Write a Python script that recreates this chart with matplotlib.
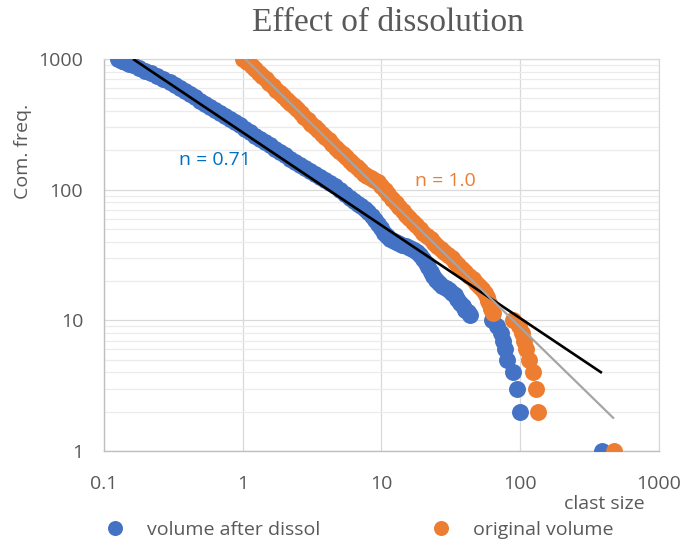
import matplotlib.pyplot as plt
from matplotlib.lines import Line2D
from matplotlib.ticker import FixedLocator, FixedFormatter, LogLocator, NullFormatter

# clast size vs cumulative frequency
blue_size = [0.126, 0.134, 0.142, 0.152, 0.162, 0.179, 0.1975, 0.218, 0.241, 0.268,
             0.299, 0.325, 0.353, 0.384, 0.417, 0.453, 0.492, 0.535, 0.581, 0.631,
             0.685, 0.744, 0.809, 0.879, 0.955, 1.04, 1.127, 1.225, 1.331, 1.446,
             1.571, 1.707, 1.855, 2.016, 2.19, 2.38, 2.586, 2.808, 3.05, 3.314,
             3.60, 3.911, 4.25, 4.619, 5.02, 5.456, 5.93, 6.336, 6.77, 7.173,
             7.60, 8.056, 8.54, 8.979, 9.44, 9.908, 10.4, 10.94, 11.5, 12.3,
             13.15, 14.04, 15.0, 16.04, 17.15, 18.03, 18.95, 19.9, 20.9, 21.78,
             22.7, 23.68, 24.7, 25.97, 27.3, 28.95, 30.7, 32.26, 33.9, 35.3,
             36.8, 38.4, 40.0, 41.7, 43.4,
             62.2, 67.6, 72.3, 75.5, 77.6, 80.7, 89.2, 94.2, 99.6, 386]
blue_freq = [1000, 974, 949, 924, 900, 857, 816, 778, 741, 703,
             667, 635, 605, 572, 540, 510, 481, 455, 430, 407,
             386, 366, 347, 328, 310, 292.5, 276, 259.5, 244, 230.6,
             218, 205.6, 194, 183.2, 173, 163.5, 154.5, 146, 138, 130.8,
             124, 118.1, 112.5, 105.8, 99.5, 92.7, 86.4, 81.9, 77.7, 74.4,
             71.2, 66.9, 62.9, 58.7, 54.7, 50.5, 46.6, 44.2, 42.0, 40.5,
             39.1, 37.9, 36.8, 35.7, 34.6, 33.1, 31.7, 29.5, 27.5, 25.4,
             23.5, 21.9, 20.4, 19.3, 18.3, 17.7, 17.1, 16.3, 15.6, 14.6,
             13.6, 12.8, 12.0, 11.5, 11.0,
             10, 9, 8, 7, 6, 5, 4, 3, 2, 1]

orange_size = [1.0, 1.08, 1.166, 1.236, 1.31, 1.388, 1.471, 1.559, 1.652, 1.751,
               1.856, 1.967, 2.084, 2.209, 2.341, 2.481, 2.63, 2.787, 2.953, 3.13,
               3.317, 3.516, 3.726, 3.948, 4.183, 4.434, 4.70, 4.982, 5.28, 5.596,
               5.93, 6.284, 6.66, 7.058, 7.48, 7.927, 8.40, 8.905, 9.44, 10.0,
               10.6, 11.23, 11.9, 12.63, 13.4, 14.18, 15.0, 15.92, 16.9, 17.87,
               18.9, 20.06, 21.3, 22.56, 23.9, 25.31, 26.8, 28.45, 30.2, 32.0,
               33.9, 35.9, 38.0, 40.3, 42.7, 45.3, 48.0, 50.4, 53.0, 55.3,
               57.6, 59.0, 60.5, 62.0, 63.6,
               89.2, 98.4, 103.5, 107, 109.9, 115.6, 123, 129.8, 134.9, 474]
orange_freq = [1000, 944, 892, 838, 788, 744, 703, 661, 622, 584,
               549, 519, 490, 463, 437, 411, 386, 363, 341.5, 321,
               302, 284, 267, 252, 238, 223.6, 210, 198.5, 187.6, 176.4,
               165.8, 156.6, 147.9, 140.3, 133, 127.9, 122.9, 118.6, 114.5, 106.7,
               99.5, 91.9, 84.9, 79.1, 73.7, 68.7, 64.0, 60.2, 56.6, 53.2,
               50.0, 47.0, 44.2, 41.6, 39.1, 36.9, 34.9, 33.1, 31.4, 29.8,
               28.2, 26.5, 24.9, 23.4, 21.9, 20.6, 19.3, 18.3, 17.4, 16.2,
               15.1, 14.1, 13.1, 12.2, 11.4,
               10, 9, 8, 7, 6, 5, 4, 3, 2, 1]

# power-law trendlines (end points)
fit_after_x = [0.162, 388]
fit_after_y = [1000, 3.96]
fit_orig_x = [1.04, 474]
fit_orig_y = [1000, 1.77]

x_ticks = [0.1, 1, 10, 100, 1000]
x_labels = ["0.1", "1", "10", "100", "1000"]
y_ticks = [1, 10, 100, 1000]
y_labels = ["1", "10", "100", "1000"]

BLUE = "#4472C4"
ORANGE = "#ED7D31"
TXT = "#595959"

plt.rcParams["font.family"] = ["Open Sans", "DejaVu Sans"]

fig = plt.figure(figsize=(6.85, 5.4), dpi=100)
ax = fig.add_axes([0.1518, 0.1648, 0.8102, 0.7259])

ax.plot(blue_size, blue_freq, "o", color=BLUE, ms=12.2, mew=0, zorder=3)
ax.plot(orange_size, orange_freq, "o", color=ORANGE, ms=12.2, mew=0, zorder=4)
ax.plot(fit_after_x, fit_after_y, color="black", lw=1.9, solid_capstyle="butt", zorder=5)
ax.plot(fit_orig_x, fit_orig_y, color="#A5A5A5", lw=1.6, solid_capstyle="butt", zorder=6)

ax.set_xscale("log")
ax.set_yscale("log")
ax.set_xlim(0.1, 1000)
ax.set_ylim(1, 1000)

ax.xaxis.set_major_locator(FixedLocator(x_ticks))
ax.xaxis.set_major_formatter(FixedFormatter(x_labels))
ax.xaxis.set_minor_locator(FixedLocator([]))
ax.yaxis.set_major_locator(FixedLocator(y_ticks))
ax.yaxis.set_major_formatter(FixedFormatter(y_labels))
ax.yaxis.set_minor_locator(LogLocator(base=10, subs=range(2, 10)))
ax.yaxis.set_minor_formatter(NullFormatter())

ax.grid(True, which="major", color="#D9D9D9", lw=0.9, zorder=0)
ax.grid(True, which="minor", axis="y", color="#EBEBEB", lw=0.9, zorder=0)
ax.set_axisbelow(True)

for side in ["top", "right"]:
    ax.spines[side].set_color("#D9D9D9")
    ax.spines[side].set_linewidth(0.9)
for side in ["left", "bottom"]:
    ax.spines[side].set_color("#BFBFBF")
    ax.spines[side].set_linewidth(1.0)

ax.tick_params(which="both", length=0, labelsize=14, labelcolor=TXT)
ax.tick_params(axis="x", pad=17)
ax.tick_params(axis="y", pad=15)

ax.text(0.63, 169, "n = 0.71", color="#0070C0", fontsize=14, ha="center", va="center")
ax.text(28.7, 117, "n = 1.0", color=ORANGE, fontsize=14, ha="center", va="center")

fig.text(0.5657, 0.958, "Effect of dissolution", family="Liberation Serif",
         fontsize=24, color=TXT, ha="center", va="center")
fig.text(0.0336, 0.7204, "Com. freq.", rotation=90, fontsize=14, color=TXT,
         ha="center", va="center")
fig.text(0.8818, 0.0667, "clast size", fontsize=14, color=TXT, ha="center", va="center")

handles = [
    Line2D([], [], ls="none", marker="o", ms=10.8, color=BLUE, mew=0),
    Line2D([], [], ls="none", marker="o", ms=10.8, color=ORANGE, mew=0),
]
leg = fig.legend(handles, ["volume after dissol", "original volume"], ncol=2,
                 loc="center left", bbox_to_anchor=(0.154, 0.0185), frameon=False,
                 fontsize=14, handlelength=1.0, handletextpad=1.15,
                 columnspacing=5.7, borderpad=0, borderaxespad=0)
for t in leg.get_texts():
    t.set_color(TXT)

fig.savefig("out.png", dpi=100)
